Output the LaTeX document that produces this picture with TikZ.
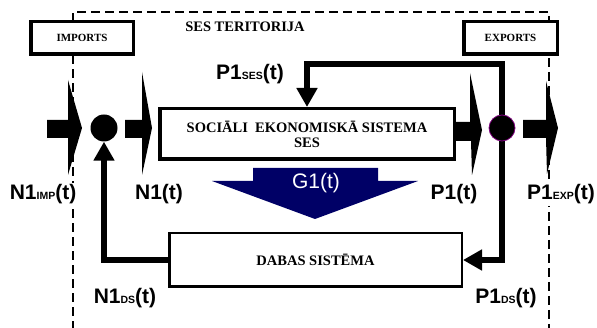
\documentclass[tikz,border=0pt]{standalone}
\usepackage{fontspec}
\setmainfont{Liberation Serif}
\newfontfamily\labfont{Liberation Sans}
\usetikzlibrary{arrows.meta,backgrounds}
\definecolor{navyg}{RGB}{0,0,102}
\definecolor{jpurple}{RGB}{128,0,128}
\newcommand{\flab}[2]{{\labfont\bfseries\fontsize{21}{24}\selectfont #1{\fontsize{10.5}{12}\selectfont #2}(t)}}
\begin{document}
\begin{tikzpicture}[x=1pt,y=-1pt,
  sysbox/.style={draw, line width=3.5pt, fill=white, inner sep=0pt, align=center,
                 font=\bfseries\fontsize{14.5}{15}\selectfont},
  natbox/.style={draw, line width=2.5pt, fill=white, inner sep=0pt, align=center,
                 font=\bfseries\fontsize{14.5}{15}\selectfont},
  tradebox/.style={draw, line width=3.5pt, fill=white, inner sep=0pt,
                 font=\bfseries\fontsize{11}{13}\selectfont},
  flowline/.style={line width=6pt, -{Triangle[width=20pt,length=19pt]}},
  lab/.style={anchor=base, inner sep=2pt, fill=white},
  terframe/.style={line width=1.2pt, dash pattern=on 9pt off 5pt},
  junction/.style={circle, fill=black, minimum size=27pt, inner sep=0pt},
  chev/.style={fill=black}]
\useasboundingbox (0,0) rectangle (597,328);

% territory frame
\begin{pgfonlayer}{background}
\draw[terframe] (73,330) -- (73,12) -- (549,12) -- (549,330);
\end{pgfonlayer}

% boxes
\node[tradebox, minimum width=102.5pt, minimum height=32.5pt] (imp) at (82,38) {IMPORTS};
\node[tradebox, minimum width=93.5pt, minimum height=32.5pt] (exp) at (510.5,38) {EXPORTS};
\node[anchor=base, font=\bfseries\fontsize{14.5}{16}\selectfont] (ter) at (245,32) {SES TERITORIJA};
\node[sysbox, minimum width=294.5pt, minimum height=50.5pt] (ses) at (307,134)
  {SOCIĀLI\ \ EKONOMISKĀ SISTEMA\\SES};
\node[natbox, minimum width=292.5pt, minimum height=53.5pt] (ds) at (315.5,260) {DABAS SISTĒMA};

% junctions
\node[junction] (jl) at (104,128) {};
\node[junction, draw=jpurple, line width=0.8pt, minimum size=26pt] (jr) at (502,128) {};

% feedback connectors
\begin{pgfonlayer}{background}
\draw[flowline] (jr.center) |- (307,64) -- (ses.north);
\draw[flowline] (jr.center) |- (ds.east);
\draw[flowline] (ds.west) -| (jl.south);
\end{pgfonlayer}

% block flow arrows
\fill[chev] (47,120) -- (68,120) -- (68,80) -- (82,128) -- (68,175) -- (68,138) -- (47,138) -- cycle;
\fill[chev] (125,120) -- (142,120) -- (142,72) -- (152,128) -- (142,175) -- (142,138) -- (125,138) -- cycle;
\fill[chev] (455,122) -- (470,122) -- (470,73) -- (482,130) -- (472,175) -- (471,141) -- (455,141) -- cycle;
\fill[chev] (523,120) -- (546,120) -- (546,81) -- (558,128) -- (547,174) -- (546,138) -- (523,138) -- cycle;

% G1 arrow
\fill[navyg] (253,168) -- (378,168) -- (378,181) -- (418,181) -- (315,219) -- (212,181) -- (253,181) -- cycle;
\node[anchor=base, text=white, inner sep=0pt, font=\labfont\fontsize{21}{24}\selectfont] (g1) at (316,189) {G1(t)};

% labels
\node[lab] (lses) at (250,80) {\flab{P1}{SES}};
\node[lab] (limp) at (43,200) {\flab{N1}{IMP}};
\node[lab] (ln1) at (159,200) {\flab{N1}{}};
\node[lab] (lp1) at (454,200) {\flab{P1}{}};
\node[lab] (lexp) at (561,200) {\flab{P1}{EXP}};
\node[lab] (lnds) at (125,304) {\flab{N1}{DS}};
\node[lab] (lpds) at (506,304) {\flab{P1}{DS}};
\end{tikzpicture}
\end{document}
